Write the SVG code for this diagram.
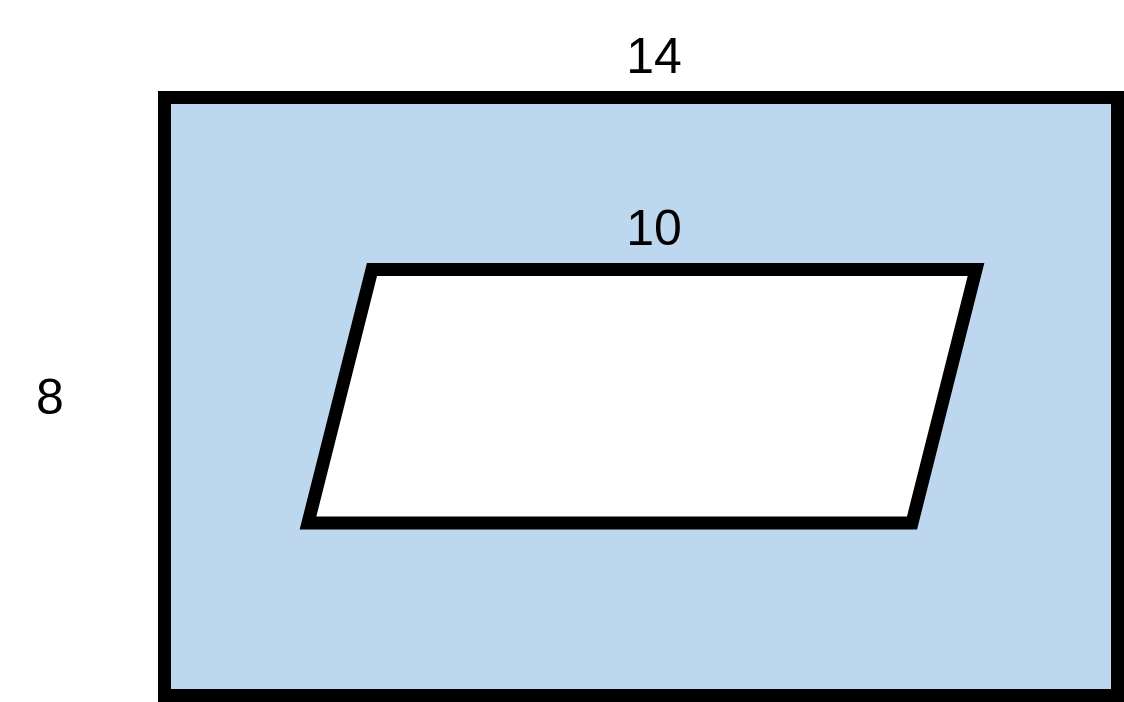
<svg xmlns="http://www.w3.org/2000/svg" width="1124" height="702" viewBox="0 0 1124 702">
<style>
.lbl{font-family:"Liberation Sans",Arial,sans-serif;font-size:50px;fill:#000;text-anchor:middle}
.shape{stroke:#000;stroke-width:13;stroke-linejoin:miter}
</style>
<rect width="1124" height="702" fill="#fff"/>
<g id="outer-rect">
<rect class="shape" x="164.5" y="97.5" width="953" height="598" fill="#BDD7EE"/>
</g>
<g id="parallelogram">
<polygon class="shape" points="372,269.5 976,269.5 912,523 308,523" fill="#fff"/>
</g>
<g id="labels">
<text class="lbl" x="654" y="73">14</text>
<text class="lbl" x="654" y="245">10</text>
<text class="lbl" x="50" y="414">8</text>
</g>
</svg>
